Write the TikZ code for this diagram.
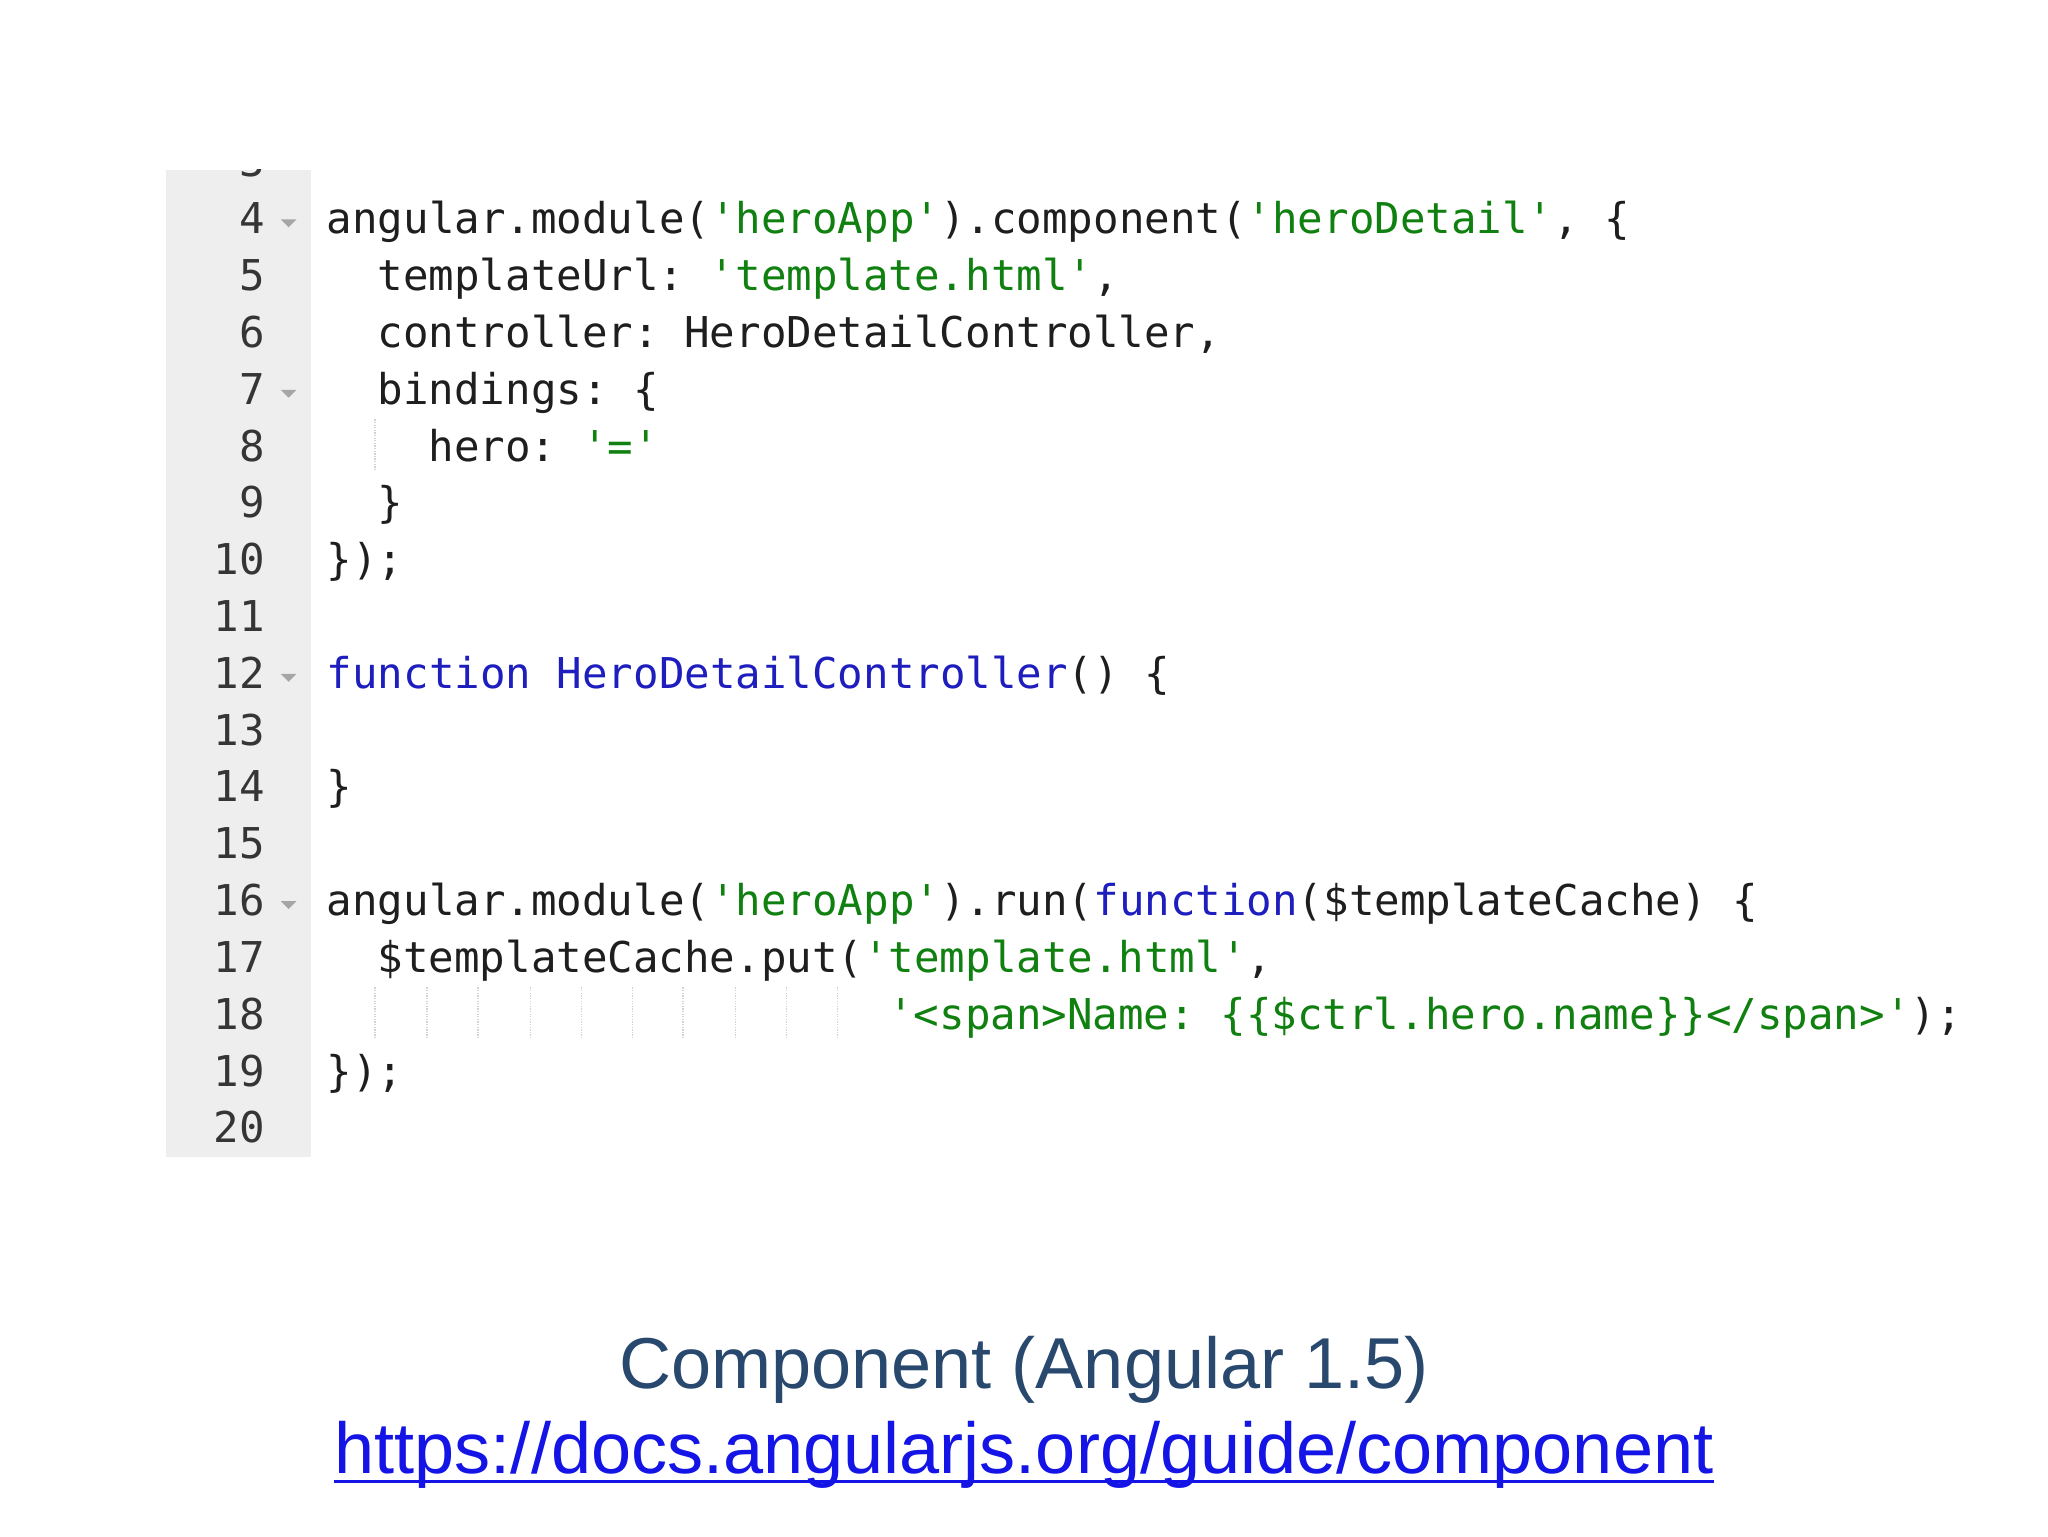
\documentclass[tikz,border=0pt]{standalone}
\usepackage{fontspec}
\setmainfont{Liberation Sans}
\setmonofont{DejaVu Sans Mono}
\definecolor{strc}{RGB}{16,128,16}
\definecolor{kwc}{RGB}{30,30,190}
\definecolor{txt}{RGB}{30,30,30}
\definecolor{gut}{RGB}{238,238,238}
\definecolor{titlec}{RGB}{40,72,110}
\definecolor{linkc}{RGB}{20,20,230}
\newcommand{\strg}[1]{\textcolor{strc}{#1}}
\newcommand{\kwd}[1]{\textcolor{kwc}{#1}}
\begin{document}
\begin{tikzpicture}[x=1pt,y=-1pt,
  code/.style={anchor=base west,inner sep=0pt,font=\fontsize{32.5}{36}\selectfont\ttfamily,text=txt},
  lnum/.style={anchor=base east,inner sep=0pt,font=\fontsize{32.5}{36}\selectfont\ttfamily,text=txt!90},
  fold/.style={fill=gray!70,draw=none},
  guide/.style={draw=gray!35,densely dotted,line width=1pt}]
\useasboundingbox (0,0) rectangle (1568,1176);
\fill[white] (0,0) rectangle (1568,1176);
\fill[gut] (127,130) rectangle (238,886);
\begin{scope}
\clip (127,130) rectangle (238,886);
\node[lnum] (n3) at (203,135.5) {3};
\end{scope}
\foreach \n in {4,...,20}{
  \node[lnum] (n\n) at (203,{179+(\n-4)*43.5}) {\n};
}
\foreach \n in {4,7,12,16}{
  \fill[fold] (215,{168+(\n-4)*43.5}) -- (227,{168+(\n-4)*43.5}) -- (221,{174+(\n-4)*43.5}) -- cycle;
}
\draw[guide] (287,{179+4*43.5-32}) -- (287,{179+4*43.5+8});
\foreach \gx in {287,327,366,406,445,484,523,563,602,641}{
  \draw[guide] (\gx,{179+14*43.5-32}) -- (\gx,{179+14*43.5+8});
}
\node[code] (l4) at (250,179) {angular.module(\strg{'heroApp'}).component(\strg{'heroDetail'}, \{};
\node[code] (l5) at (289,222.5) {templateUrl: \strg{'template.html'},};
\node[code] (l6) at (289,266) {controller: HeroDetailController,};
\node[code] (l7) at (289,309.5) {bindings: \{};
\node[code] (l8) at (328,353) {hero: \strg{'='}};
\node[code] (l9) at (289,396.5) {\}};
\node[code] (l10) at (250,440) {\});};
\node[code] (l12) at (250,527) {\kwd{function} \kwd{HeroDetailController}() \{};
\node[code] (l14) at (250,614) {\}};
\node[code] (l16) at (250,701) {angular.module(\strg{'heroApp'}).run(\kwd{function}(\$templateCache) \{};
\node[code] (l17) at (289,744.5) {\$templateCache.put(\strg{'template.html'},};
\node[code] (l18) at (680,788) {\strg{'<span>Name: \{\{\$ctrl.hero.name\}\}</span>'});};
\node[code] (l19) at (250,831.5) {\});};
\node[anchor=base,inner sep=0pt,text=titlec,font=\fontsize{55.2}{60}\selectfont] (title) at (784,1063) {Component (Angular 1.5)};
\node[anchor=base,inner sep=0pt,text=linkc,font=\fontsize{55.2}{60}\selectfont] (url) at (784,1128) {https://docs.angularjs.org/guide/component};
\draw[linkc,line width=2.5pt] ([yshift=-6pt]url.base west) -- ([yshift=-6pt]url.base east);
\end{tikzpicture}
\end{document}
